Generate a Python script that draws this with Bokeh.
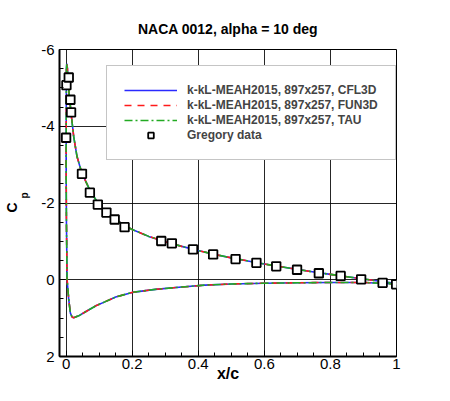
from bokeh.plotting import figure
from bokeh.models import Range1d, SingleIntervalTicker, NumeralTickFormatter, Title
from bokeh.embed import file_html
from bokeh.resources import INLINE

# surface Cp: trailing edge -> lower side -> leading edge -> upper side -> trailing edge
cfd_x = [1.0, 0.9, 0.8, 0.7, 0.6, 0.5, 0.42, 0.35, 0.27, 0.2, 0.15, 0.119, 0.09,
         0.068, 0.05, 0.038, 0.023, 0.018, 0.013, 0.008, 0.003, 0.001, 0.0, 0.0005,
         0.001, 0.002, 0.004, 0.008, 0.015, 0.023, 0.033, 0.048, 0.074, 0.1, 0.12,
         0.15, 0.18, 0.2, 0.25, 0.3, 0.35, 0.4, 0.45, 0.5, 0.55, 0.6, 0.65, 0.7,
         0.75, 0.8, 0.85, 0.9, 0.95, 1.0]
cfd_cp = [0.11, 0.07, 0.07, 0.08, 0.09, 0.11, 0.14, 0.19, 0.25, 0.33, 0.45, 0.57, 0.68,
          0.79, 0.88, 0.94, 0.99, 0.97, 0.87, 0.52, 0.0, -1.5, -3.0, -4.5,
          -5.5, -5.63, -5.5, -4.95, -4.34, -3.73, -3.21, -2.77, -2.3, -1.95, -1.77,
          -1.57, -1.4, -1.31, -1.13, -0.99, -0.87, -0.76, -0.66, -0.57, -0.49, -0.41, -0.34, -0.27,
          -0.2, -0.14, -0.08, -0.02, 0.04, 0.1]

# Gregory experimental data
greg_x = [0.001, 0.008, 0.013, 0.015, 0.0, 0.048, 0.072, 0.096, 0.122, 0.147, 0.177,
          0.288, 0.320, 0.384, 0.445, 0.513, 0.576, 0.636, 0.699, 0.765, 0.831,
          0.893, 0.958, 0.999]
greg_cp = [-5.07, -5.27, -4.69, -4.36, -3.70, -2.76, -2.27, -1.96, -1.75, -1.57, -1.37,
           -1.01, -0.95, -0.79, -0.66, -0.54, -0.44, -0.35, -0.26, -0.17, -0.10,
           -0.01, 0.08, 0.12]

names = ["k-kL-MEAH2015, 897x257, CFL3D",
         "k-kL-MEAH2015, 897x257, FUN3D",
         "k-kL-MEAH2015, 897x257, TAU"]
colors = ["#2a2aff", "#ff1a1a", "#22aa22"]
dashes = ["solid", "7 6", "8 3 2 3"]

FONT = "Liberation Sans"

p = figure(width=434, height=385, output_backend="svg", toolbar_location=None,
           x_range=Range1d(-0.02, 1.0), y_range=Range1d(2, -6),
           min_border_left=59, min_border_right=38, min_border_top=49, min_border_bottom=29)
p.background_fill_color = "white"
p.border_fill_color = "white"
p.outline_line_color = "black"
p.outline_line_width = 1

p.title.text = "NACA 0012, alpha = 10 deg"
p.title.align = "center"
p.title.text_font = FONT
p.title.text_font_size = "14px"
p.title.text_font_style = "bold"
p.title.text_color = "black"
p.title.standoff = 26

for name, c, d in zip(names, colors, dashes):
    p.line(cfd_x, cfd_cp, color=c, line_dash=d, line_width=1.6, legend_label=name)

p.scatter(greg_x, greg_cp, marker="square", size=8.5, line_color="black", line_width=1.8,
          fill_color="white", legend_label="Gregory data")

xa = p.xaxis[0]
ya = p.yaxis[0]
xa.ticker = SingleIntervalTicker(interval=0.2, num_minor_ticks=4)
ya.ticker = SingleIntervalTicker(interval=2, num_minor_ticks=4)
for ax in (xa, ya):
    ax.formatter = NumeralTickFormatter(format="0.[0]")
    ax.axis_line_width = 2
    ax.axis_line_color = "black"
    ax.major_tick_in = 6
    ax.major_tick_out = 0
    ax.minor_tick_in = 4
    ax.minor_tick_out = 0
    ax.major_tick_line_color = "black"
    ax.minor_tick_line_color = "black"
    ax.major_label_text_font = FONT
    ax.major_label_text_font_size = "15px"
    ax.major_label_text_color = "black"
xa.major_label_standoff = 2
ya.major_label_standoff = 5
xa.axis_label = "x/c"
xa.axis_label_text_font = FONT
xa.axis_label_text_font_size = "16px"
xa.axis_label_text_font_style = "bold"
xa.axis_label_text_color = "black"
xa.axis_label_standoff = -7

p.xgrid.ticker = xa.ticker
p.ygrid.ticker = ya.ticker
for g in (p.xgrid, p.ygrid):
    g.grid_line_color = "black"
    g.grid_line_width = 1
    g.grid_line_alpha = 0.85

# y label C with subscript p, as two titles on the left side
p.add_layout(Title(text="p", align="left", offset=158, vertical_align="top", standoff=14,
                   text_font=FONT, text_font_size="10px", text_font_style="bold",
                   text_color="black"), "left")
p.add_layout(Title(text="C", align="left", offset=144, vertical_align="bottom", standoff=-17,
                   text_font=FONT, text_font_size="14px", text_font_style="bold",
                   text_color="black"), "left")

lg = p.legend[0]
lg.location = (47, 196)
lg.margin = 0
lg.padding = 17
lg.spacing = 1
lg.label_height = 14
lg.glyph_height = 14
lg.glyph_width = 53
lg.label_standoff = 10
lg.label_text_font = FONT
lg.label_text_font_size = "12px"
lg.label_text_font_style = "bold"
lg.border_line_color = "#8c8c8c"
lg.border_line_width = 1
lg.background_fill_alpha = 1

open("out.html", "w").write(file_html(p, INLINE))
